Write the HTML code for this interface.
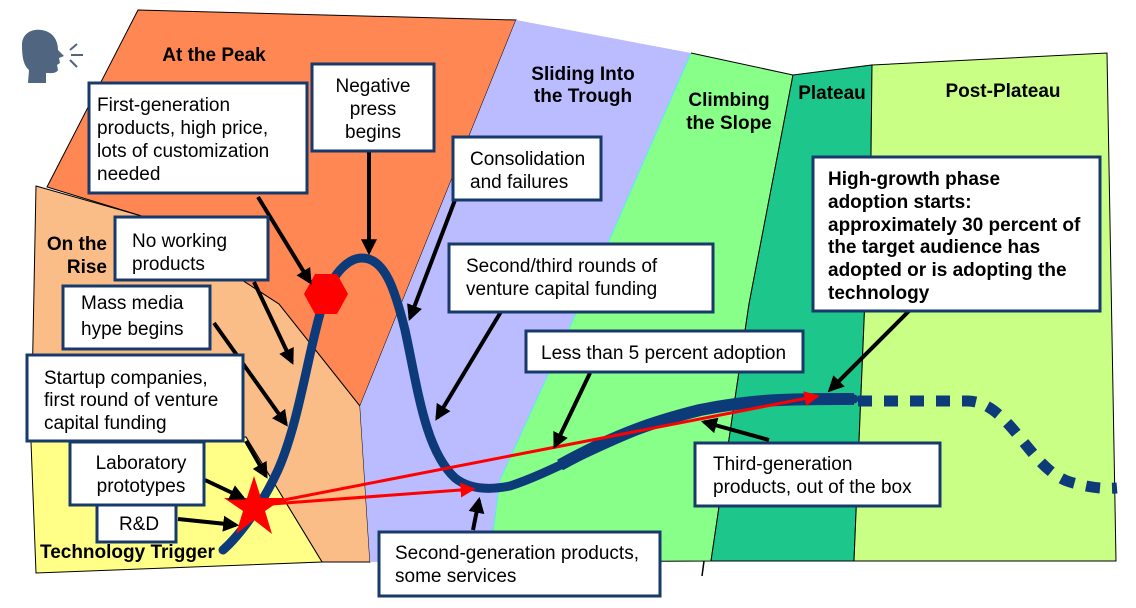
<!DOCTYPE html>
<html><head><meta charset="utf-8"><style>
html,body{margin:0;padding:0;background:#fff}
svg{display:block}
text{font-family:"Liberation Sans",Arial,sans-serif}
.b{fill:#fff;stroke:#173a6b;stroke-width:3}
.t{font-size:19px;fill:#000}
.h{font-size:19px;font-weight:bold;fill:#000}
.a{stroke:#000;stroke-width:4;fill:none;marker-end:url(#ah)}
</style></head><body>
<svg width="1136" height="608" viewBox="0 0 1136 608" xmlns="http://www.w3.org/2000/svg">
<defs>
<marker id="ah" viewBox="0 0 10 10" refX="8" refY="5" markerWidth="4" markerHeight="4" orient="auto"><path d="M0,0L10,5L0,10z" fill="#000"/></marker>
<marker id="rh" viewBox="0 0 10 10" refX="9" refY="5" markerWidth="5" markerHeight="5" orient="auto"><path d="M0,0L10,5L0,10z" fill="#f00"/></marker>
</defs>
<polygon points="36,186 145,217 279,304 360,406 370,562 322,562 246,437 31,442" fill="#fbbd87" stroke="#000" stroke-width="1"/>
<polygon points="31,442 246,437 322,562 36,573" fill="#ffff88" stroke="#000" stroke-width="1"/>
<polygon points="138,10 516,20 360,406 279,304 145,217 47,187" fill="#ff8753" stroke="#000" stroke-width="1"/>
<polygon points="516,20 691,53 608,243 500,480 489,562 370,562 360,406" fill="#bbbbff"/>
<polygon points="691,53 793,75 749,304 711,561 489,562 500,480 608,243" fill="#88ff88"/>
<polyline points="691,53 608,243 500,480 489,562" fill="none" stroke="#5ee" stroke-width="1"/>
<polyline points="691,53 793,75 749,304 711,561 489,562" fill="none" stroke="#000" stroke-width="1"/>
<polygon points="793,75 872,65 871,155 854,561 711,561 749,304" fill="#1dc68a" stroke="#000" stroke-width="1"/>
<polygon points="872,65 1107,53 1116,561 854,561 871,155" fill="#c8ff84" stroke="#000" stroke-width="1"/>
<line x1="704" y1="561" x2="702" y2="576" stroke="#000" stroke-width="1.5"/>
<g fill="#4f6580">
<path d="M22,45 C22,30 38,27 48,32 C56,36 58,44 58,50 L64,56 L59,58 L60,63 L57,65 L58,70 C56,74 50,73 46,73 L46,83 L28,83 L29,70 C23,65 22,55 22,45Z"/>
</g>
<g stroke="#4f6580" stroke-width="2"><line x1="70" y1="50" x2="77" y2="44"/><line x1="71" y1="55" x2="83" y2="55"/><line x1="70" y1="60" x2="77" y2="67"/></g>
<text x="214" y="61" class="h" text-anchor="middle">At the Peak</text>
<text x="107" y="250" class="h" text-anchor="end">On the</text>
<text x="107" y="273" class="h" text-anchor="end">Rise</text>
<text x="583" y="80" class="h" text-anchor="middle">Sliding Into</text>
<text x="583" y="102" class="h" text-anchor="middle">the Trough</text>
<text x="729" y="106" class="h" text-anchor="middle">Climbing</text>
<text x="729" y="129" class="h" text-anchor="middle">the Slope</text>
<text x="832" y="99" class="h" text-anchor="middle">Plateau</text>
<text x="1003" y="97" class="h" text-anchor="middle">Post-Plateau</text>
<text x="40" y="558" class="h">Technology Trigger</text>
<path d="M223,550 C240,535 262,505 278,470 C300,420 308,350 324,300 C334,270 350,258 362,258 C385,258 395,290 405,330 C418,390 425,450 455,478 C470,490 490,490 510,486 C560,470 620,430 700,410 C760,398 800,399 854,399" fill="none" stroke="#0d3b7a" stroke-width="9" stroke-linecap="round"/>
<path d="M560,465 C620,432 660,420 700,410 C760,398 800,399 854,399" fill="none" stroke="#0d3b7a" stroke-width="12"/>
<path d="M858,401 L968,401 C1010,402 1030,470 1070,482 C1090,488 1105,489 1117,488" fill="none" stroke="#0d3b7a" stroke-width="11" stroke-dasharray="14,12"/>
<polygon points="315,274 337,274 348,294 337,314 315,314 304,294" fill="#f00"/>
<polygon points="254,476 261,498 284,498 265,511 272,534 254,520 236,534 243,511 224,498 247,498" fill="#f00"/>
<line x1="258" y1="505" x2="474" y2="489" stroke="#f00" stroke-width="3" marker-end="url(#rh)"/>
<line x1="258" y1="505" x2="818" y2="396" stroke="#f00" stroke-width="3" marker-end="url(#rh)"/>
<line class="a" x1="258" y1="197" x2="310" y2="282"/>
<line class="a" x1="369" y1="152" x2="369" y2="252"/>
<line class="a" x1="254" y1="282" x2="292" y2="362"/>
<line class="a" x1="214" y1="323" x2="286" y2="424"/>
<line class="a" x1="246" y1="441" x2="266" y2="476"/>
<line class="a" x1="205" y1="480" x2="243" y2="498"/>
<line class="a" x1="178" y1="519" x2="236" y2="525"/>
<line class="a" x1="455" y1="200" x2="410" y2="318"/>
<line class="a" x1="502" y1="310" x2="437" y2="418"/>
<line class="a" x1="590" y1="373" x2="555" y2="446"/>
<line class="a" x1="473" y1="530" x2="479" y2="500"/>
<line class="a" x1="909" y1="311" x2="830" y2="390"/>
<line class="a" x1="769" y1="440" x2="704" y2="422"/>
<rect class="b" x="89" y="83" width="218" height="110"/>
<text class="t" x="97" y="111">First-generation</text>
<text class="t" x="97" y="134">products, high price,</text>
<text class="t" x="97" y="157">lots of customization</text>
<text class="t" x="97" y="180">needed</text>
<rect class="b" x="312" y="64" width="122" height="87"/>
<text class="t" x="373" y="92" text-anchor="middle">Negative</text>
<text class="t" x="373" y="115" text-anchor="middle">press</text>
<text class="t" x="373" y="138" text-anchor="middle">begins</text>
<rect class="b" x="115" y="217" width="153" height="63"/>
<text class="t" x="132" y="247">No working</text>
<text class="t" x="132" y="270">products</text>
<rect class="b" x="63" y="286" width="147" height="63"/>
<text class="t" x="81" y="309">Mass media</text>
<text class="t" x="81" y="335">hype begins</text>
<rect class="b" x="27" y="355" width="216" height="86"/>
<text class="t" x="44" y="384">Startup companies,</text>
<text class="t" x="44" y="406">first round of venture</text>
<text class="t" x="44" y="429">capital funding</text>
<rect class="b" x="70" y="442" width="134" height="63"/>
<text class="t" x="141" y="469" text-anchor="middle">Laboratory</text>
<text class="t" x="141" y="492" text-anchor="middle">prototypes</text>
<rect class="b" x="97" y="505" width="79" height="37"/>
<text class="t" x="139" y="530" text-anchor="middle">R&amp;D</text>
<rect class="b" x="453" y="137" width="148" height="63"/>
<text class="t" x="470" y="165">Consolidation</text>
<text class="t" x="470" y="188">and failures</text>
<rect class="b" x="449" y="244" width="264" height="68"/>
<text class="t" x="466" y="272">Second/third rounds of</text>
<text class="t" x="466" y="295">venture capital funding</text>
<rect class="b" x="526" y="331" width="277" height="41"/>
<text class="t" x="541" y="359">Less than 5 percent adoption</text>
<rect class="b" x="695" y="443" width="245" height="63"/>
<text class="t" x="713" y="470">Third-generation</text>
<text class="t" x="713" y="493">products, out of the box</text>
<rect class="b" x="379" y="532" width="281" height="64"/>
<text class="t" x="395" y="559">Second-generation products,</text>
<text class="t" x="395" y="582">some services</text>
<rect class="b" x="813" y="157" width="287" height="154"/>
<text class="h" x="828" y="185">High-growth phase</text>
<text class="h" x="828" y="208">adoption starts:</text>
<text class="h" x="828" y="231">approximately 30 percent of</text>
<text class="h" x="828" y="253">the target audience has</text>
<text class="h" x="828" y="276">adopted or is adopting the</text>
<text class="h" x="828" y="299">technology</text>
</svg>
</body></html>
